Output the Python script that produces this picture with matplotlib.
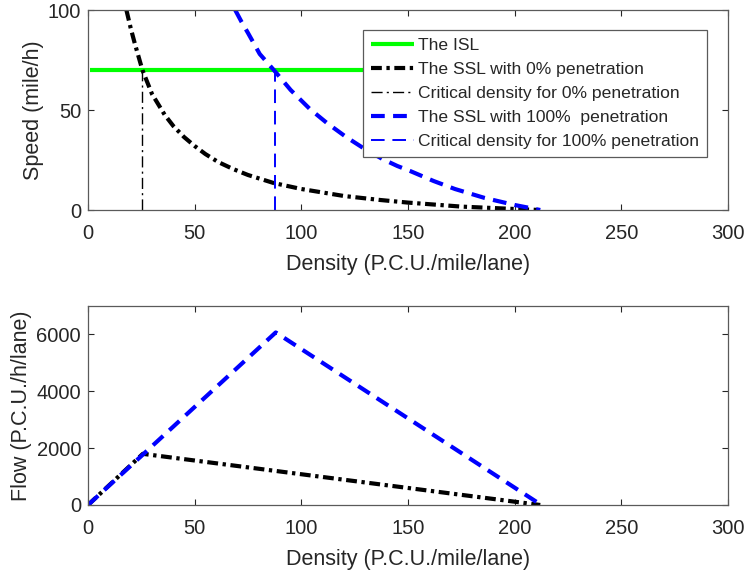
import matplotlib
matplotlib.use("Agg")
import matplotlib.pyplot as plt

plt.rcParams['font.family'] = ['Liberation Sans', 'DejaVu Sans']

# ---------------- data ----------------
isl_density = [1, 212]
isl_speed = [70, 70]

ssl0_density = [18, 20, 22, 25.5, 30, 36, 40, 45, 50, 55, 61, 68, 75, 87, 100, 120, 137, 150, 175, 200, 212]
ssl0_speed = [100, 91, 83, 70, 58, 47.5, 42, 36.5, 32, 28, 24, 20.5, 17.5, 13.5, 10.5, 7, 5, 3.7, 1.7, 0.5, 0]

crit0_density = [25.5, 25.5]
crit0_speed = [0, 70]

ssl100_density = [69, 72, 75, 80.5, 87.5, 95, 104, 112, 121, 129, 138, 145, 151, 162, 172, 186, 200, 212]
ssl100_speed = [100, 94, 88.5, 78, 69.5, 60, 50.5, 43.5, 36.5, 31, 25.5, 22, 19.5, 14.5, 10.5, 6, 2.5, 0]

crit100_density = [87.5, 87.5]
crit100_speed = [0, 70]

flow0_density = [0, 25.7, 212]
flow0_flow = [0, 1800, 0]

flow100_density = [0, 88, 212.5]
flow100_flow = [0, 6070, 0]

xticks = [0, 50, 100, 150, 200, 250, 300]
speed_ticks = [0, 50, 100]
flow_ticks = [0, 2000, 4000, 6000]

labels = ['The ISL', 'The SSL with 0% penetration', 'Critical density for 0% penetration',
          'The SSL with 100%  penetration', 'Critical density for 100% penetration']

# ---------------- figure ----------------
W, H = 744, 573
fig = plt.figure(figsize=(W / 100, H / 100), dpi=100)

def ax_rect(l, t, r, b):
    return [l / W, 1 - b / H, (r - l) / W, (b - t) / H]

ax1 = fig.add_axes(ax_rect(88, 10, 728, 210))
ax2 = fig.add_axes(ax_rect(88, 306, 728, 505))

green = '#00ff00'
blue = '#0000ff'
dashdot_thick = (0, (2.6, 1.1, 0.8, 1.1))
dashed_thick = (0, (3.3, 2.0))

ax1.plot(isl_density, isl_speed, color=green, lw=3, solid_capstyle='butt', label=labels[0])
ax1.plot(ssl0_density, ssl0_speed, color='black', lw=3, ls=dashdot_thick, label=labels[1])
ax1.plot(crit0_density, crit0_speed, color='black', lw=1, ls=(0, (8, 3, 1.5, 3)), label=labels[2])
ax1.plot(ssl100_density, ssl100_speed, color=blue, lw=3, ls=dashed_thick, label=labels[3])
ax1.plot(crit100_density, crit100_speed, color=blue, lw=1.4, ls=(0, (7, 4)), label=labels[4])

ax2.plot(flow0_density, flow0_flow, color='black', lw=3, ls=dashdot_thick)
ax2.plot(flow100_density, flow100_flow, color=blue, lw=3, ls=dashed_thick)

tick_fs = 14.5
label_fs = 15.5
for ax in (ax1, ax2):
    ax.set_xlim(0, 300)
    ax.set_xticks(xticks)
    ax.tick_params(direction='in', length=4.5, width=0.8, top=True, right=True,
                   labelsize=tick_fs, colors='#262626')
    ax.tick_params(axis='x', pad=10)
    ax.tick_params(axis='y', pad=5)
    for s in ax.spines.values():
        s.set_color('#5a5a5a')
        s.set_linewidth(0.9)
    ax.set_xlabel('Density (P.C.U./mile/lane)', fontsize=label_fs, color='#262626', labelpad=8)

ax1.set_ylim(0, 100)
ax1.set_yticks(speed_ticks)
ax1.set_ylabel('Speed (mile/h)', fontsize=label_fs, color='#262626', labelpad=3)

ax2.set_ylim(0, 7000)
ax2.set_yticks(flow_ticks)
ax2.set_ylabel('Flow (P.C.U./h/lane)', fontsize=label_fs, color='#262626', labelpad=3)

leg = ax1.legend(loc='upper left', bbox_to_anchor=(363 / W, 1 - 30 / H),
                 bbox_transform=fig.transFigure, fontsize=12.6, frameon=True,
                 fancybox=False, shadow=False, framealpha=1, edgecolor='#5a5a5a',
                 borderpad=0.45, borderaxespad=0, handlelength=2.45, handletextpad=0.27,
                 labelspacing=0.5)
leg.get_frame().set_linewidth(0.9)
for t in leg.get_texts():
    t.set_color('#262626')

fig.savefig('out.png', dpi=100)
